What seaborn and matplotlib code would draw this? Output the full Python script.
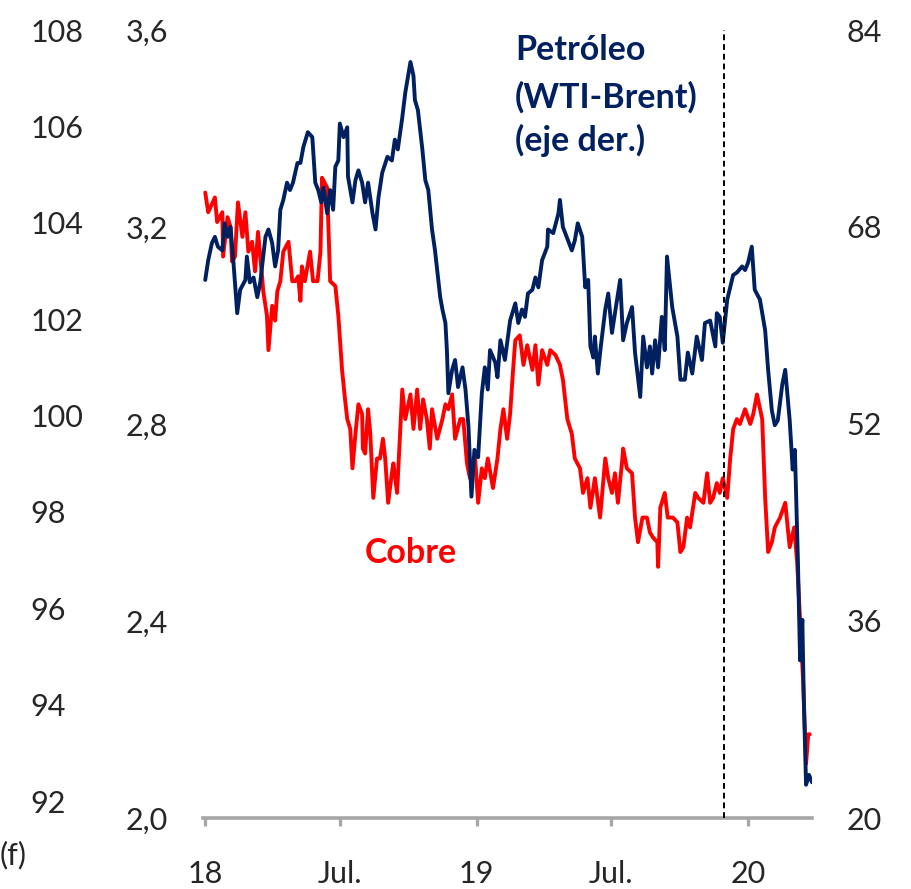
import pandas as pd
import seaborn as sb
from matplotlib import pyplot as plt

# DATA (days counted from 1 Jan 2018)
START = pd.Timestamp("2018-01-01")

copper_day = [0, 4, 13, 16, 23, 24, 30, 34, 36, 40, 44, 50, 54, 58, 63, 67, 71, 77, 78, 83,
              85, 90, 94, 97, 101, 105, 112, 117, 121, 125, 128, 130, 134, 141, 145, 151, 155, 157, 164, 168,
              175, 179, 184, 188, 191, 195, 198, 202, 206, 211, 212, 215, 219, 222, 226, 231, 235, 239, 242, 246,
              251, 253, 258, 261, 265, 269, 276, 280, 285, 289, 293, 298, 302, 305, 312, 319, 323, 327, 332, 336,
              343, 347, 352, 356, 363, 367, 372, 376, 380, 387, 393, 397, 401, 406, 410, 414, 417, 423, 428, 433,
              440, 444, 448, 453, 460, 464, 471, 477, 481, 487, 493, 497, 504, 508, 514, 518, 524, 531, 538, 542,
              547, 551, 555, 561, 562, 567, 574, 578, 582, 588, 594, 598, 602, 608, 609, 612, 618, 622, 629, 635,
              639, 643, 648, 652, 659, 663, 670, 675, 679, 683, 688, 692, 696, 702, 706, 710, 715, 719, 726, 733,
              737, 742, 749, 753, 757, 762, 766, 773, 780, 786, 792, 796, 800, 804, 808, 811, 813]
copper_usd = [3.27, 3.23, 3.26, 3.21, 3.23, 3.14, 3.22, 3.20, 3.13, 3.14, 3.25, 3.18, 3.23, 3.15, 3.17, 3.11, 3.19, 3.09, 3.07, 3.02,
              2.95, 3.04, 3.01, 3.07, 3.09, 3.15, 3.17, 3.09, 3.09, 3.10, 3.05, 3.12, 3.09, 3.15, 3.09, 3.09, 3.15, 3.30, 3.28, 3.09,
              3.08, 3.02, 2.91, 2.85, 2.81, 2.79, 2.71, 2.78, 2.84, 2.82, 2.75, 2.74, 2.83, 2.78, 2.65, 2.73, 2.73, 2.77, 2.73, 2.64,
              2.70, 2.72, 2.66, 2.75, 2.87, 2.81, 2.86, 2.79, 2.87, 2.79, 2.85, 2.81, 2.75, 2.83, 2.77, 2.81, 2.84, 2.83, 2.86, 2.77,
              2.81, 2.81, 2.72, 2.69, 2.73, 2.64, 2.71, 2.69, 2.73, 2.67, 2.73, 2.79, 2.83, 2.77, 2.82, 2.91, 2.97, 2.98, 2.92, 2.96,
              2.91, 2.96, 2.88, 2.95, 2.92, 2.95, 2.94, 2.92, 2.89, 2.81, 2.78, 2.73, 2.71, 2.66, 2.69, 2.63, 2.69, 2.61, 2.73, 2.69,
              2.66, 2.70, 2.64, 2.73, 2.75, 2.71, 2.70, 2.61, 2.56, 2.61, 2.61, 2.58, 2.57, 2.56, 2.51, 2.63, 2.66, 2.61, 2.61, 2.60,
              2.54, 2.55, 2.61, 2.59, 2.66, 2.65, 2.64, 2.70, 2.64, 2.65, 2.68, 2.66, 2.69, 2.65, 2.73, 2.79, 2.81, 2.80, 2.83, 2.80,
              2.82, 2.86, 2.81, 2.65, 2.54, 2.56, 2.59, 2.61, 2.64, 2.55, 2.59, 2.52, 2.40, 2.28, 2.11, 2.17, 2.17]

oil_day = [0, 4, 9, 13, 17, 23, 26, 30, 34, 38, 43, 47, 54, 56, 60, 65, 70, 74, 81, 85,
           90, 94, 98, 101, 105, 110, 114, 118, 124, 128, 132, 138, 144, 148, 152, 156, 159, 164, 168, 172,
           175, 179, 181, 186, 191, 192, 198, 202, 206, 211, 215, 219, 225, 229, 233, 238, 245, 251, 255, 259,
           265, 269, 273, 276, 280, 282, 286, 292, 296, 300, 305, 309, 316, 319, 323, 325, 327, 332, 336, 340,
           346, 350, 354, 358, 362, 367, 372, 376, 380, 383, 390, 393, 397, 403, 410, 417, 421, 426, 430, 434,
           440, 444, 448, 453, 460, 461, 468, 475, 477, 481, 488, 493, 497, 501, 507, 511, 515, 518, 522, 524,
           528, 532, 538, 542, 547, 551, 558, 562, 567, 574, 578, 585, 589, 594, 598, 601, 605, 609, 614, 618,
           621, 628, 635, 639, 645, 649, 655, 661, 668, 672, 679, 686, 688, 692, 696, 702, 710, 715, 722, 726,
           730, 735, 739, 746, 753, 757, 762, 766, 770, 776, 780, 786, 790, 793, 797, 800, 803, 805, 808, 812, 816]
oil_usd = [63.7, 65.3, 66.7, 67.2, 66.4, 66.1, 68.3, 67.2, 68.0, 65.1, 61.0, 62.9, 63.7, 65.6, 63.5, 63.9, 62.3, 63.5, 67.2, 67.8,
           66.7, 64.8, 66.1, 69.4, 70.2, 71.6, 71.0, 71.6, 73.2, 73.2, 74.5, 75.7, 75.3, 71.6, 71.0, 70.0, 71.2, 69.1, 71.0, 69.4,
           72.9, 73.4, 76.4, 75.3, 76.1, 72.1, 70.0, 71.8, 72.6, 71.6, 70.0, 71.6, 69.1, 67.8, 70.4, 72.4, 73.7, 73.4, 75.1, 74.3,
           76.9, 78.9, 80.3, 81.4, 80.3, 78.3, 77.5, 74.3, 71.8, 71.0, 67.8, 66.1, 62.3, 61.3, 60.2, 58.0, 54.5, 56.4, 57.2, 55.0,
           56.6, 54.8, 51.8, 46.1, 49.9, 49.3, 54.5, 56.6, 54.8, 58.0, 57.0, 55.8, 58.8, 57.2, 60.4, 61.8, 60.2, 61.3, 60.7, 62.6,
           62.9, 63.9, 63.1, 65.3, 66.4, 67.8, 67.5, 69.1, 70.2, 68.0, 66.9, 66.1, 66.9, 68.3, 67.2, 63.1, 63.7, 58.3, 57.4, 59.1,
           56.1, 58.3, 61.3, 62.6, 59.4, 61.0, 63.7, 58.8, 60.2, 61.5, 57.8, 54.2, 59.1, 56.6, 58.3, 56.1, 58.8, 56.6, 60.7, 58.0,
           65.6, 61.5, 59.1, 55.6, 55.6, 57.8, 56.1, 59.1, 57.2, 60.2, 60.4, 58.3, 61.0, 60.7, 58.6, 62.1, 64.1, 64.3, 64.8, 64.5,
           65.1, 66.4, 62.9, 62.1, 59.6, 56.4, 53.1, 51.9, 52.3, 55.2, 56.4, 52.3, 48.3, 49.9, 41.0, 32.8, 36.1, 29.6, 22.7, 23.5, 22.9]

cutoff_date = "2019-11-29"

x_tick_dates = ["2018-01-01", "2018-07-01", "2019-01-01", "2019-07-01", "2020-01-01"]
x_tick_labels = ["18", "Jul.", "19", "Jul.", "20"]
copper_ticks = [2.0, 2.4, 2.8, 3.2, 3.6]
copper_tick_labels = ["2,0", "2,4", "2,8", "3,2", "3,6"]
oil_ticks = [20, 36, 52, 68, 84]
index_ticks = [92, 94, 96, 98, 100, 102, 104, 106, 108]

RED = "#FF0000"
NAVY = "#002060"
GREY = "#A6A6A6"
FS = 22        # tick labels
FS_NOTE = 24.5 # bold series labels
LW = 2.8

assert len(copper_day) == len(copper_usd)
assert len(oil_day) == len(oil_usd)

copper_df = pd.DataFrame({"fecha": START + pd.to_timedelta(copper_day, unit="D"), "cobre": copper_usd})
oil_df = pd.DataFrame({"fecha": START + pd.to_timedelta(oil_day, unit="D"), "petroleo": oil_usd})

sb.set_style("white")
plt.rcParams["font.family"] = ["Lato", "DejaVu Sans"]

fig = plt.figure(figsize=(9.12, 8.89), dpi=100)
ax = fig.add_axes([203 / 912, 1 - 818 / 889, 609 / 912, 788 / 889])
ax_oil = ax.twinx()
ax_idx = ax.twinx()

sb.lineplot(data=copper_df, x="fecha", y="cobre", color=RED, linewidth=LW, ax=ax, legend=False, sort=False)
sb.lineplot(data=oil_df, x="fecha", y="petroleo", color=NAVY, linewidth=LW, ax=ax_oil, legend=False, sort=False)

# vertical dashed marker
ax_oil.axvline(pd.Timestamp(cutoff_date), color="black", linewidth=1.4, linestyle=(0, (3, 2)))

ax.set_xlim(START - pd.Timedelta(days=3), START + pd.Timedelta(days=816))
ax.set_ylim(2.0, 3.6)
ax_oil.set_ylim(20, 84)
ax_idx.set_ylim(91.65, 107.85)

for a in (ax, ax_oil, ax_idx):
    a.set_xlabel("")
    a.set_ylabel("")
    for s in a.spines.values():
        s.set_visible(False)
ax.spines["bottom"].set_visible(True)
ax.spines["bottom"].set_color(GREY)
ax.spines["bottom"].set_linewidth(2.6)

ax.set_xticks(pd.to_datetime(x_tick_dates))
ax.set_xticklabels(x_tick_labels)
ax.tick_params(axis="x", bottom=True, direction="out", length=6, width=2.4, color=GREY, pad=24, labelsize=FS)

ax.set_yticks(copper_ticks)
ax.set_yticklabels(copper_tick_labels)
ax.tick_params(axis="y", length=0, pad=25, labelsize=FS)

ax_oil.set_yticks(oil_ticks)
ax_oil.set_yticklabels([str(t) for t in oil_ticks])
ax_oil.tick_params(axis="y", length=0, pad=25, labelsize=FS)

ax_idx.yaxis.set_ticks_position("left")
ax_idx.set_yticks(index_ticks)
ax_idx.set_yticklabels([str(t) for t in index_ticks])
ax_idx.tick_params(axis="y", left=False, right=False, labelleft=True, labelright=False,
                   length=0, pad=124.5, labelsize=FS)
plt.setp(ax_idx.get_yticklabels(), ha="left")

# annotations
fig.text(515 / 912, 1 - 50 / 889, "Petróleo", color=NAVY, fontsize=FS_NOTE, fontweight="bold", va="center", ha="left")
fig.text(515 / 912, 1 - 97 / 889, "(WTI-Brent)", color=NAVY, fontsize=FS_NOTE, fontweight="bold", va="center", ha="left")
fig.text(515 / 912, 1 - 140 / 889, "(eje der.)", color=NAVY, fontsize=FS_NOTE, fontweight="bold", va="center", ha="left")
fig.text(365 / 912, 1 - 553 / 889, "Cobre", color=RED, fontsize=FS_NOTE, fontweight="bold", va="center", ha="left")
fig.text(0.0, 1 - 855 / 889, "(f)", fontsize=FS, va="center", ha="left")

fig.savefig("out.png", dpi=100)
